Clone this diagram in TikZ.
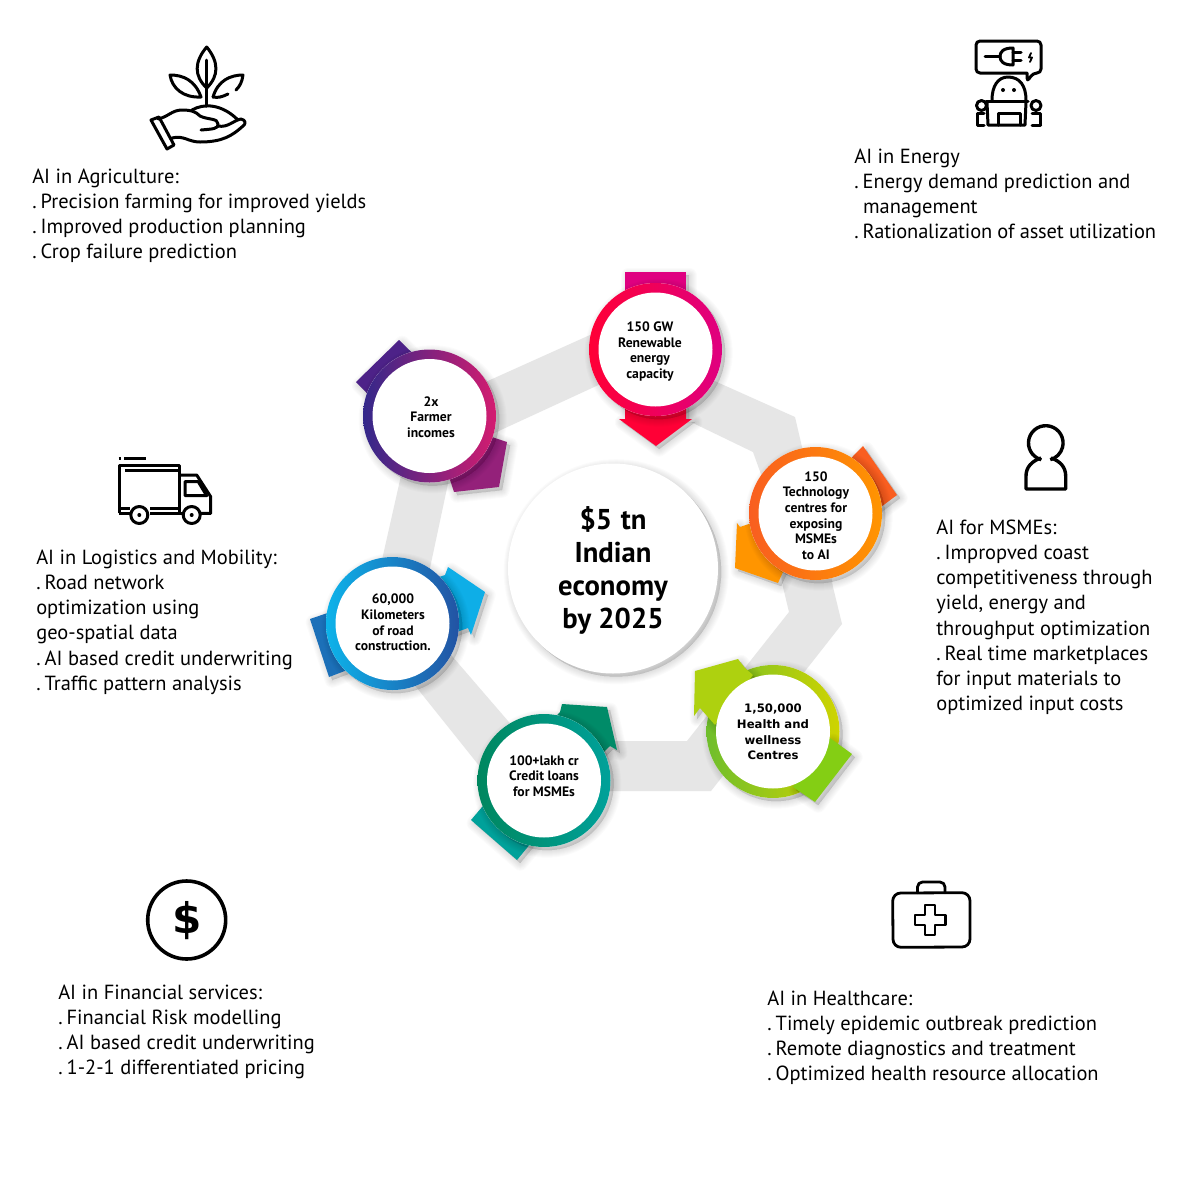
\documentclass[tikz,border=0pt]{standalone}
\usepackage{fontspec}
\setmainfont{PT Sans}
\newfontfamily\wellfont{DejaVu Sans}
\definecolor{band}{HTML}{E6E6E6}
\definecolor{rA}{HTML}{FF0036}\definecolor{rB}{HTML}{DF0080}
\definecolor{fA}{HTML}{33288A}\definecolor{fB}{HTML}{D41C70}
\definecolor{tA}{HTML}{F95E20}\definecolor{tB}{HTML}{FF9500}
\definecolor{wA}{HTML}{6FBE2C}\definecolor{wB}{HTML}{CFD400}
\definecolor{wT}{HTML}{84CE14}\definecolor{wH}{HTML}{AED10F}
\definecolor{cA}{HTML}{00875F}\definecolor{cB}{HTML}{00A19A}
\definecolor{dA}{HTML}{0DB3EA}\definecolor{dB}{HTML}{2353A3}
\tikzset{
  bodytext/.style={anchor=north west,inner sep=0pt,align=left,font=\fontsize{14.55}{17.92}\selectfont},
  circtext/.style={inner sep=0pt,align=center,font=\fontsize{9.7}{11.15}\selectfont\bfseries},
  welltext/.style={inner sep=0pt,align=center,font=\fontsize{8.3}{11.15}\selectfont\wellfont\bfseries},
  icon/.style={draw=black,line width=0.75mm,line cap=round,line join=round},
  whitedisc/.style={fill=white}
}
\newcommand{\dt}{.\hspace{1mm}}
\newcommand{\softfill}[2]{%
  \foreach \w in {15,13,11,9,7,5,3,1}{%
    \path[fill=black,draw=black,opacity=0.017,line width=\w*0.25mm,line join=round,xshift=0.8mm,yshift=-0.8mm] #2;}
  \fill[#1] #2;
}
\newcommand{\ringonly}[3]{%
  \softfill{white}{(#1) circle (66.5)}
  \shade[left color=#2,right color=#3] (#1) circle (66.5);
}
\newcommand{\ringdisc}[3]{%
  \ringonly{#1}{#2}{#3}
  \fill[whitedisc] (#1) circle (57);
}
\begin{document}
\begin{tikzpicture}[x=0.25mm,y=-0.25mm]
\useasboundingbox (0,0) rectangle (1200,1200);
\fill[white] (0,0) rectangle (1200,1200);
% band
\fill[band] (470,389) -- (610,326) -- (618,376) -- (477,441) -- cycle;
\fill[band] (690,370) -- (795,417) -- (802,447) -- (825,540) -- (775,540) -- (762,477) -- (753,452) -- (693,423) -- (660,407) -- cycle;
\fill[band] (775,540) -- (825,540) -- (833,587) -- (842,624) -- (711,791) -- (570,791) -- (570,741) -- (687,741) -- (789,612) -- (783,587) -- cycle;
\fill[band] (527,743) -- (433,634) -- (397,663) -- (497,788) -- cycle;
\fill[band] (405,458) -- (377,582) -- (427,582) -- (453,460) -- cycle;
% red arrow
\softfill{rB}{(625,272) -- (686,272) -- (686,340) -- (625,340) -- cycle}
\softfill{rA}{(625,390) -- (686,390) -- (686,419) -- (692,419) -- (656,446) -- (619,419) -- (625,419) -- cycle}
% farmer arrow
\softfill{fA!85!rB}{(356,382) -- (399,340) -- (440,380) -- (397,424) -- cycle}
\softfill{fB!60!fA}{(470,400) -- (492,437) -- (507,442) -- (499,487) -- (454,492) -- (450,480) -- (420,440) -- cycle}
% tech arrow
\softfill{tA}{(863,446) -- (897,495) -- (850,530) -- (820,490) -- cycle}
\softfill{tB}{(790,510) -- (740,527) -- (737,523) -- (735,568) -- (778,583) -- (783,572) -- (810,550) -- cycle}
% credit arrow
\softfill{cB}{(471,820) -- (517,860) -- (550,820) -- (505,780) -- cycle}
\softfill{cA!85!cB}{(560,712) -- (562,704) -- (607,707) -- (617,750) -- (610,746) -- (575,780) -- (530,745) -- cycle}
% road arrow
\softfill{dB!70!dA}{(310,619) -- (329,677) -- (400,650) -- (380,595) -- cycle}
\softfill{dA!95!dB}{(400,590) -- (445,575) -- (448,567) -- (485,592) -- (471,635) -- (468,628) -- (420,645) -- cycle}
% rings
\ringdisc{655.5,349.5}{rA}{rB}
\ringdisc{429.5,416}{fA}{fB}
\ringdisc{815.5,513.5}{tA}{tB}
\ringdisc{544,780.5}{cA}{cB}
\ringdisc{392.5,623.5}{dA}{dB}
% wellness: arrow lies over the ring, under the white disc
\ringonly{773,731.5}{wA}{wB}
\softfill{wT}{(830,738) -- (852,754) -- (815,802) -- (793,787) -- cycle}
\softfill{wH}{(753,675) -- (745,668) -- (738,659) -- (695,671) -- (694,716) -- (700,708) -- (715,725) -- cycle}
\fill[whitedisc] (773,731.5) circle (57);
% centre disc
\softfill{white}{(613,568.5) circle (105)}
\node[inner sep=0pt,align=center,font=\fontsize{20.4}{23.6}\selectfont\bfseries] (centre) at (613,570.5) {\$5\hspace{2.2mm}tn\\Indian\\economy\\by 2025};
% circle labels
\node[circtext] (lblfarmer) at (431,417) {2x\\Farmer\\incomes};
\node[circtext] (lblenergy) at (650,351.5) {150 GW\\Renewable\\energy\\capacity};
\node[circtext] (lbltech) at (816,515.5) {150\\Technology\\centres for\\exposing\\MSMEs\\to AI};
\node[welltext] (lblwell) at (773,732) {1,50,000\\Health and\\wellness\\Centres};
\node[circtext] (lblcredit) at (544,776) {100+lakh cr\\Credit loans\\for MSMEs};
\node[circtext] (lblroad) at (393,622.5) {60,000\\Kilometers\\of road\\construction.};
% body text
\node[bodytext] (agri) at (32,168.5) {AI in Agriculture:\\\dt Precision farming for improved yields\\\dt Improved production planning\\\dt Crop failure prediction};
\node[bodytext] (energy) at (854,148.5) {AI in Energy\\\dt Energy demand prediction and\\\hspace*{2.2mm}management\\\dt {\addfontfeature{LetterSpace=-0.9}Rationalization of asset utilization}};
\node[bodytext] (logi) at (36,549.5) {AI in Logistics and Mobility:\\\dt Road network\\optimization using\\geo-spatial data\\\dt AI based credit underwriting\\\dt Traffic pattern analysis};
\node[bodytext] (msme) at (936,519.5) {AI for MSMEs:\\\dt Impropved coast\\competitiveness through\\yield, energy and\\throughput optimization\\\dt Real time marketplaces\\for input materials to\\optimized input costs};
\node[bodytext] (fin) at (58,984.5) {AI in Financial services:\\\dt Financial Risk modelling\\\dt AI based credit underwriting\\\dt 1-2-1 differentiated pricing};
\node[bodytext] (health) at (767,990.5) {AI in Healthcare:\\\dt Timely epidemic outbreak prediction\\\dt Remote diagnostics and treatment\\\dt Optimized health resource allocation};
% agriculture icon
\draw[icon] (206.7,47) .. controls (194,62) and (194,76) .. (206.7,88) .. controls (219,76) and (219,62) .. (206.7,47) -- cycle;
\draw[icon] (206.7,60) -- (206.7,106);
\draw[icon] (201,97) .. controls (195,80) and (183,75) .. (170,75) .. controls (172,88) and (183,98) .. (201,97) -- cycle;
\draw[icon] (213,97) .. controls (218,80) and (231,75) .. (243,75) .. controls (242,82) and (240,86) .. (236,90);
\draw[icon] (228,94) .. controls (222,97) and (218,98) .. (213,97);
\draw[icon] (158,119) .. controls (168,117) and (172,110) .. (182,110) .. controls (192,110) and (196,112) .. (200,116) .. controls (208,120) and (218,118) .. (218,124) .. controls (219,129) and (212,129) .. (201,130);
\draw[icon] (192,110) .. controls (204,103) and (222,104) .. (238,120);
\draw[icon] (218,126) .. controls (228,128) and (234,120) .. (241,119) .. controls (246,120) and (246,124) .. (243,126) .. controls (232,136) and (222,142) .. (200,142) .. controls (188,142) and (184,135) .. (172,138);
\draw[icon] (151,120) -- (159,117) -- (174,145) -- (167,149) -- cycle;
% energy icon
\draw[icon,rounded corners=1mm] (1027,73) -- (976,73) -- (976,41) -- (1041,41) -- (1041,73) -- (1033,73) -- (1027,82) -- (1027,73);
\draw[icon] (985,56.5) -- (1000,56.5);
\draw[icon] (1013,48) .. controls (1003,48) and (1000,52) .. (1000,56.5) .. controls (1000,61) and (1003,65) .. (1013,65) -- cycle;
\draw[icon] (1013,52.5) -- (1021,52.5) (1013,60.5) -- (1021,60.5);
\draw[icon,line width=0.45mm] (1031,53) -- (1029,57.5) -- (1032,57.5) -- (1030,62);
\draw[icon] (992,100) .. controls (992,86) and (998,77) .. (1008,77) .. controls (1020,77) and (1026,86) .. (1026,100);
\draw[icon] (986,101) -- (1028,101);
\fill (1003,90) circle (2) (1014,90) circle (2);
\draw[icon] (987,102) -- (988,125) -- (1025,125) -- (1026,102);
\draw[icon] (998,125) -- (998,113) -- (1020,113) -- (1020,125);
\draw[icon] (981.5,105.5) circle (5) (1036,105.5) circle (5);
\draw[icon] (977.5,125) -- (977.5,113) -- (984,113) (977.5,125) -- (984,125);
\draw[icon] (1040.5,125) -- (1040.5,113) -- (1032,113) (1040.5,125) -- (1032,125);
% truck icon
\draw[icon,line cap=butt] (118.5,458.3) -- (121,458.3) (124,458.3) -- (146,458.3);
\draw[icon,line cap=butt] (119,513.3) -- (119,465) -- (179.3,465) -- (179.3,513.3);
\draw[icon,line cap=butt] (125,470.5) -- (179.3,470.5);
\draw[icon,line cap=butt] (119,508) -- (130,508) (119,513.3) -- (130.5,513.3);
\draw[icon,line cap=butt] (150,508) -- (179,508) (150,513.3) -- (183,513.3);
\draw[icon,line cap=butt] (179.3,475) -- (196.7,475) -- (210.7,496.7) -- (210.7,513.3) -- (200.5,513.3);
\draw[icon] (185,481.7) -- (198.3,481.7) -- (206.7,495.7) -- (185,495.7) -- cycle;
\draw[icon] (139.3,515) circle (8.5) (191.7,515) circle (8.5);
\fill (139.3,515) circle (2) (191.7,515) circle (2);
% person icon
\draw[icon,line cap=butt,line width=0.85mm] (1041.3,459.7) arc[start angle=105,end angle=435,radius=17.3];
\draw[icon,line cap=butt,line width=0.85mm] (1041,458) .. controls (1032,461) and (1026,467) .. (1026,476) -- (1026,489) -- (1065.7,489) -- (1065.7,476) .. controls (1065.7,467) and (1060,461) .. (1051,458);
% kit icon
\draw[icon,line width=0.7mm] (892.7,901) arc[start angle=180,end angle=270,radius=8] -- (962,892.7) arc[start angle=270,end angle=360,radius=8] -- (970,939) arc[start angle=0,end angle=90,radius=8] -- (901,947.3) arc[start angle=90,end angle=180,radius=8] -- cycle;
\draw[icon,line width=0.7mm] (917.5,892.7) -- (917.5,887) arc[start angle=180,end angle=270,radius=5] -- (940,882) arc[start angle=270,end angle=360,radius=5] -- (945,892.7);
\draw[icon,line width=0.7mm] (925,905) -- (935,905) -- (935,915) -- (945.5,915) -- (945.5,925) -- (935,925) -- (935,935) -- (925,935) -- (925,925) -- (915,925) -- (915,915) -- (925,915) -- cycle;
% finance icon
\draw[icon,line width=0.9mm] (186.7,920) circle (39);
\node[inner sep=0pt,font=\fontsize{30}{30}\selectfont\wellfont\bfseries] (dollar) at (186.7,921) {\$};
\end{tikzpicture}
\end{document}
